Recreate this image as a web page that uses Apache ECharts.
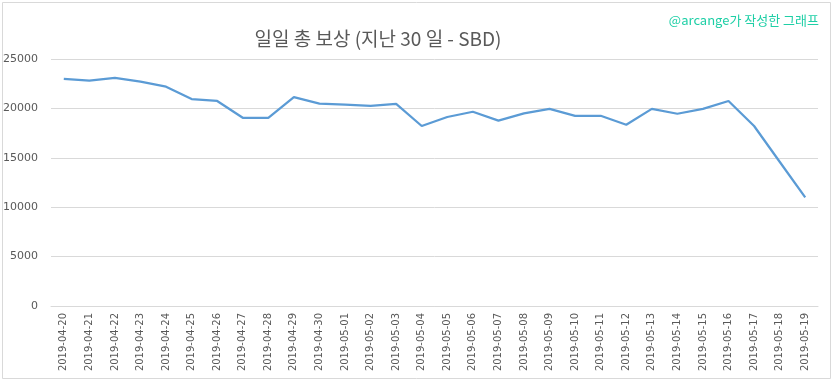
<!DOCTYPE html>
<html>
<head>
<meta charset="utf-8">
<script src="https://cdn.jsdelivr.net/npm/echarts@6/dist/echarts.min.js"></script>
<style>
html,body{margin:0;padding:0;background:#fff;}
#chart{width:833px;height:379px;}
</style>
</head>
<body>
<div id="chart"></div>
<script>
const categories = [
  '2019-04-20','2019-04-21','2019-04-22','2019-04-23','2019-04-24','2019-04-25','2019-04-26','2019-04-27','2019-04-28','2019-04-29',
  '2019-04-30','2019-05-01','2019-05-02','2019-05-03','2019-05-04','2019-05-05','2019-05-06','2019-05-07','2019-05-08','2019-05-09',
  '2019-05-10','2019-05-11','2019-05-12','2019-05-13','2019-05-14','2019-05-15','2019-05-16','2019-05-17','2019-05-18','2019-05-19'
];
const rewards = [
  23000, 22800, 23100, 22700, 22200, 20950, 20750, 19050, 19050, 21150,
  20480, 20380, 20250, 20450, 18220, 19130, 19660, 18760, 19500, 19950,
  19250, 19250, 18350, 19950, 19460, 19950, 20750, 18220, 14600, 11000
];
const yTicks = [0, 5000, 10000, 15000, 20000, 25000];
const titleText = '일일 총 보상 (지난 30 일 - SBD)';
const watermark = '@arcange가 작성한 그래프';

const chart = echarts.init(document.getElementById('chart'), null, {renderer:'canvas'});
chart.setOption({
  animation: false,
  backgroundColor: '#ffffff',
  title: [{
    text: titleText,
    left: 373, top: 24, textAlign: 'center',
    textStyle: {fontFamily: '"Noto Sans CJK KR", sans-serif', fontSize: 19, fontWeight: 'normal', color: '#595959'}
  }, {
    text: watermark,
    right: 9, top: 9,
    textStyle: {fontFamily: '"Noto Sans CJK KR", sans-serif', fontSize: 13, fontWeight: 'normal', color: '#1ECFA6'}
  }],
  graphic: [{
    type: 'rect', left: 0, top: 0,
    shape: {x: 0.5, y: 0.5, width: 828, height: 376},
    style: {fill: 'none', stroke: '#D9D9D9', lineWidth: 1}
  }],
  grid: {left: 51, right: 15, top: 59, bottom: 73, containLabel: false},
  xAxis: {
    type: 'category',
    data: categories,
    boundaryGap: true,
    axisLine: {show: true, lineStyle: {color: '#D9D9D9'}},
    axisTick: {show: false},
    axisLabel: {
      rotate: 90, interval: 0, margin: 7,
      fontFamily: '"DejaVu Sans", sans-serif', fontSize: 10, color: '#595959'
    }
  },
  yAxis: {
    type: 'value',
    min: yTicks[0], max: yTicks[yTicks.length - 1], interval: 5000,
    axisLine: {show: false},
    axisTick: {show: false},
    splitLine: {lineStyle: {color: '#D9D9D9', width: 1}},
    axisLabel: {
      margin: 13, fontFamily: '"DejaVu Sans", sans-serif', fontSize: 11, color: '#595959',
      formatter: function (v) { return String(v); }
    }
  },
  series: [{
    type: 'line',
    data: rewards,
    showSymbol: false,
    symbol: 'none',
    lineStyle: {color: '#5B9BD5', width: 2.25},
    itemStyle: {color: '#5B9BD5'}
  }]
});
</script>
</body>
</html>
